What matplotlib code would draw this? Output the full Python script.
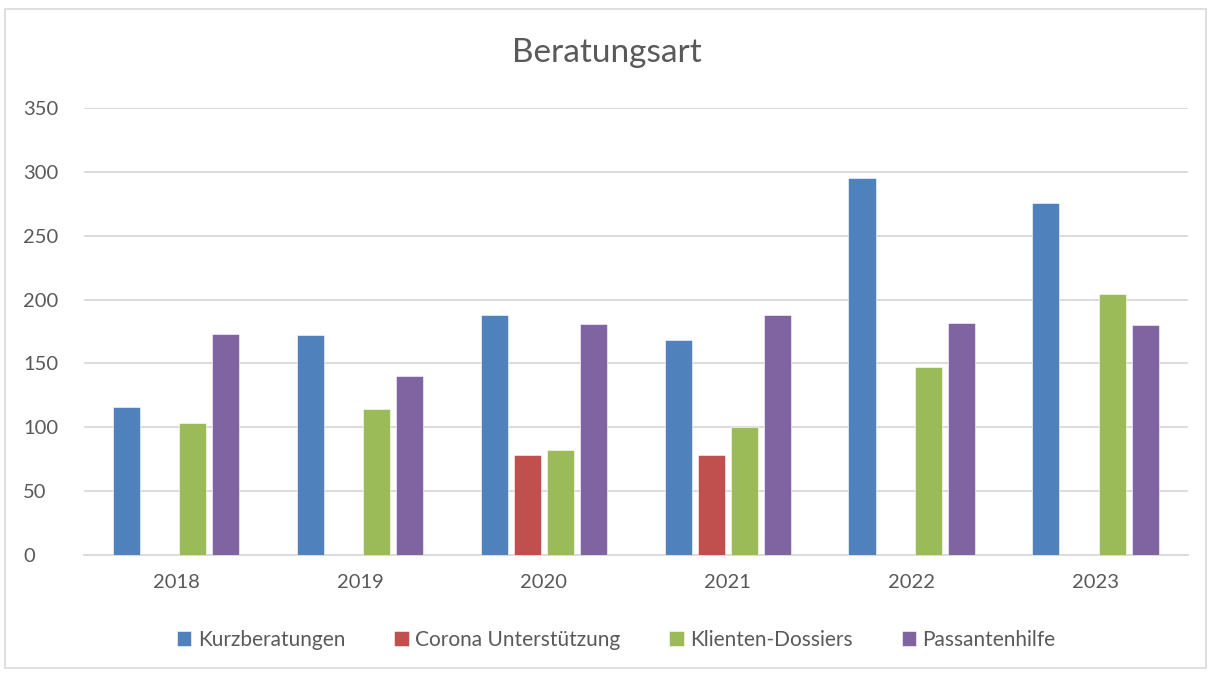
import numpy as np
import matplotlib
matplotlib.use("Agg")
import matplotlib.pyplot as plt
from matplotlib.patches import Rectangle

plt.rcParams['font.family'] = ['Lato', 'DejaVu Sans']

# Daten
jahre = ['2018', '2019', '2020', '2021', '2022', '2023']
kurzberatungen = [116, 172, 188, 168, 295, 276]
corona = [0, 0, 78, 78, 0, 0]
klienten = [103, 114, 82, 100, 147, 204]
passanten = [173, 140, 181, 188, 182, 180]

serien = ['Kurzberatungen', 'Corona Unterstützung', 'Klienten-Dossiers', 'Passantenhilfe']
farben = ['#4F81BD', '#C0504D', '#9BBB59', '#8064A2']
werte = [kurzberatungen, corona, klienten, passanten]

textfarbe = '#595959'
gitter = '#D9D9D9'

fig = plt.figure(figsize=(12.13, 6.73), dpi=100)
ax = fig.add_axes([0.0693, 0.1753, 0.9097, 0.6642])

x = np.arange(len(jahre))
slot = 0.18
breite = 0.147
for i, (name, farbe, w) in enumerate(zip(serien, farben, werte)):
    ax.bar(x + (i - 1.5) * slot, w, width=breite, color=farbe, label=name,
           edgecolor='white', linewidth=0.4, zorder=3)

ax.set_xlim(-0.5, len(jahre) - 0.5)
ax.set_ylim(0, 350)
ax.set_yticks(range(0, 351, 50))
ax.set_xticks(x)
ax.set_xticklabels(jahre)
ax.grid(axis='y', color=gitter, linewidth=1.3, zorder=0)
for s in ['top', 'right', 'left']:
    ax.spines[s].set_visible(False)
ax.spines['bottom'].set_color(gitter)
ax.spines['bottom'].set_linewidth(1.3)
ax.tick_params(axis='both', length=0, colors=textfarbe, labelsize=14.5)
ax.tick_params(axis='x', pad=14)
ax.tick_params(axis='y', pad=44)
for lab in ax.get_yticklabels():
    lab.set_horizontalalignment('left')

fig.text(0.5, 0.921, 'Beratungsart', ha='center', va='center', fontsize=24, color=textfarbe)

fig.legend(loc='center', bbox_to_anchor=(0.508, 0.049), ncol=4, frameon=False,
           fontsize=15, labelcolor=textfarbe, handlelength=0.7, handleheight=0.7,
           handletextpad=0.3, columnspacing=2.35)

fig.patches.append(Rectangle((0.004, 0.007), 0.99, 0.98, transform=fig.transFigure,
                             fill=False, edgecolor='#D9D9D9', linewidth=1.2))

fig.savefig('out.png', dpi=100)
